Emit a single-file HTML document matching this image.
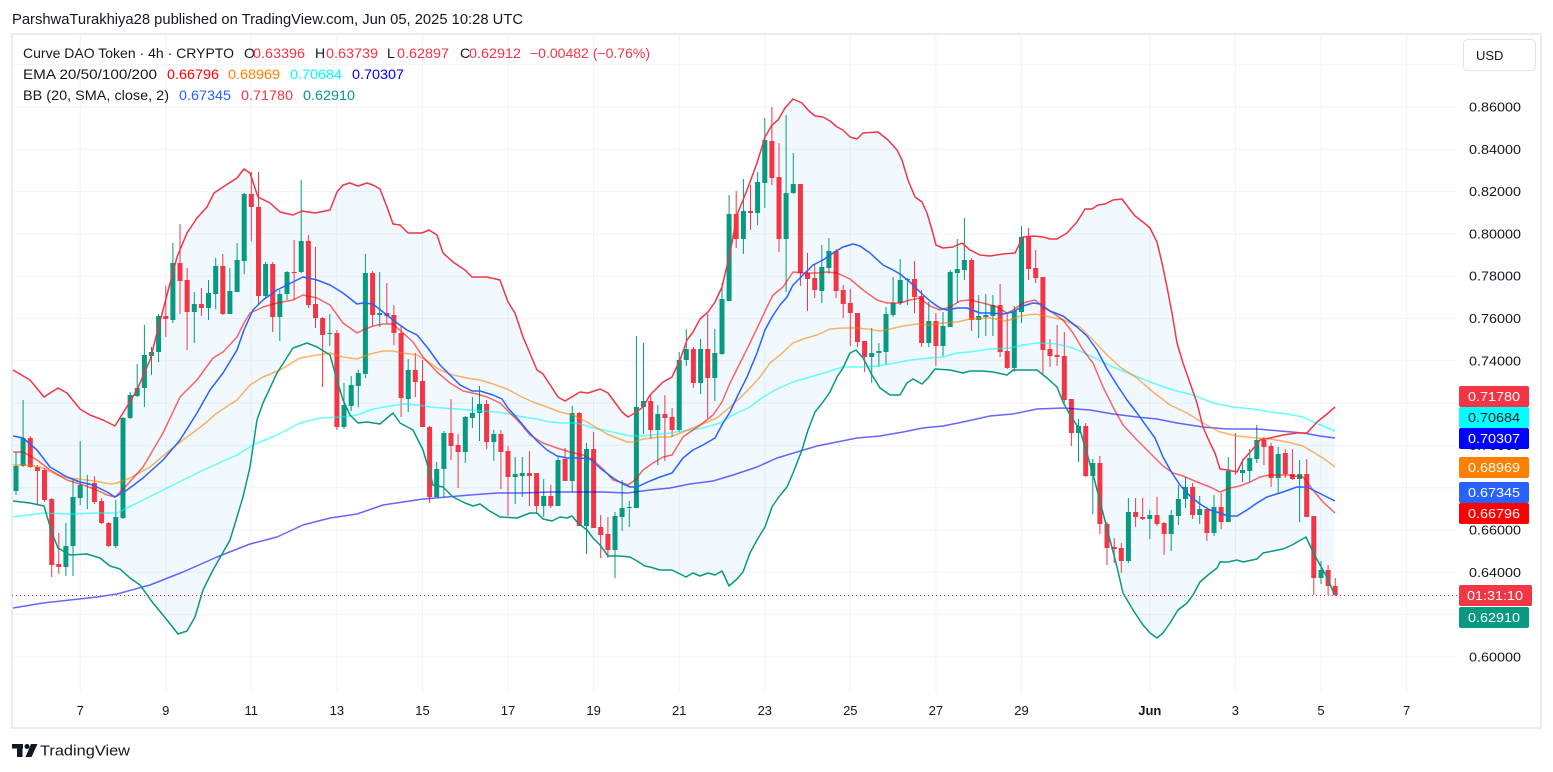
<!DOCTYPE html>
<html><head><meta charset="utf-8"><style>
html,body{margin:0;padding:0;background:#fff;}
svg{display:block;font-family:"Liberation Sans",sans-serif;}
</style></head><body>
<svg width="1553" height="772" viewBox="0 0 1553 772" xmlns="http://www.w3.org/2000/svg">
<rect width="1553" height="772" fill="#fff"/>
<text x="12" y="24" font-size="14.5" fill="#131722" textLength="511" lengthAdjust="spacingAndGlyphs">ParshwaTurakhiya28 published on TradingView.com, Jun 05, 2025 10:28 UTC</text>
<rect x="12" y="34" width="1529" height="694" fill="#fff" stroke="#ececec" stroke-width="2"/>
<!-- grid -->
<g stroke="#f0f3fa" stroke-width="1">
<path d="M12 64.7H1457M12 107H1457M12 149.3H1457M12 191.6H1457M12 233.9H1457M12 276.2H1457M12 318.5H1457M12 360.8H1457M12 403.1H1457M12 445.4H1457M12 487.7H1457M12 530H1457M12 572.3H1457M12 614.6H1457M12 656.9H1457"/>
<path d="M80.2 35V693M165.8 35V693M251.3 35V693M336.9 35V693M422.5 35V693M508 35V693M593.6 35V693M679.2 35V693M764.8 35V693M850.3 35V693M935.9 35V693M1021.5 35V693M1149.8 35V693M1235.4 35V693M1321 35V693M1406.6 35V693"/>
</g>
<!-- BB fill -->
<polygon fill="rgba(33,150,243,0.06)" points="13,370 30,380 44,397 58,388 67,393 80,409 90,415 103,420 115,426 123,413 137,390 150,360 163,310 177,257 187,233 197,218 207,207 214,193 223,187 237,178 244,169 250,173 258,197 270,203 280,212 293,215 302,211 315,213 330,210 337,192 343,185 350,183 358,186 367,183 373,185 380,189 387,207 393,224 400,225 408,233 422,233 429,230 437,235 443,253 453,262 465,270 472,277 487,277 500,280 508,302 515,313 523,337 537,370 543,374 558,397 565,401 580,392 588,393 600,389 608,393 622,412 628,417 635,413 643,407 650,395 663,382 672,377 680,360 687,340 693,332 700,319 708,312 715,302 722,287 730,253 737,215 747,190 757,163 765,137 772,125 778,120 785,108 793,99 802,103 808,110 815,116 823,117 830,121 837,127 843,130 850,137 857,139 863,133 878,132 888,140 897,150 902,160 908,180 915,197 922,202 927,213 932,230 936,245 943,248 953,247 962,243 970,250 980,255 990,256 1003,254 1015,253 1023,237 1033,236 1043,237 1050,239 1057,239 1067,233 1077,222 1085,209 1092,209 1098,205 1105,204 1113,200 1122,199 1128,207 1135,216 1143,222 1150,228 1157,242 1162,263 1167,287 1172,313 1177,343 1183,363 1190,383 1197,403 1203,427 1210,443 1215,453 1220,469 1228,470 1237,472 1243,460 1252,450 1260,440 1270,438 1283,435 1297,433 1307,433 1317,422 1327,414 1335,407 1334,594 1327,577 1320,565 1313,552 1306,537 1292,545 1283,549 1273,551 1263,553 1257,559 1243,562 1237,560 1228,562 1220,562 1217,568 1208,575 1200,582 1193,595 1187,603 1178,610 1170,623 1163,633 1157,638 1150,633 1143,625 1133,610 1123,593 1117,567 1110,540 1103,513 1095,482 1088,457 1080,430 1070,415 1063,402 1057,387 1047,378 1037,370 1023,370 1013,370 1007,375 993,372 983,371 970,371 963,373 950,370 935,369 928,378 922,384 913,379 907,383 900,395 890,395 880,388 872,375 863,358 856,350 850,353 843,368 837,377 830,392 823,402 815,412 808,430 802,450 793,473 787,487 778,498 772,507 765,527 757,540 750,553 743,572 737,579 729,586 722,571 715,575 708,573 700,576 693,573 686,577 678,573 672,570 660,570 650,567 645,566 637,561 630,557 620,556 608,556 600,545 593,538 587,530 578,523 572,516 567,518 560,517 552,521 543,519 537,513 530,513 517,518 500,517 488,510 480,504 473,506 465,503 453,497 443,487 433,485 428,467 423,450 418,440 413,430 400,423 393,413 380,424 367,422 358,423 350,415 343,400 337,380 330,355 317,347 307,343 293,348 277,373 263,403 257,420 250,467 243,497 230,540 213,570 203,590 195,617 187,631 178,634 167,620 153,603 140,585 130,578 120,569 110,566 100,558 87,554 70,555 58,548 52,533 44,506 30,503 13,501"/>
<!-- candles -->
<g fill="none" stroke-width="1">
<path stroke="#089981" d="M16 452V495M23.1 400V467M65.9 523V576M73 479V576M80.2 441V505M87.3 475V509M115.8 500V548M123 417V519M130.1 392V419M137.2 364V397M144.4 325V407M151.5 347V375M158.6 314V362M172.9 243V323M194.3 292V343M208.5 280V320M215.7 258V309M229.9 268V314M237.1 243V292M244.2 193V274M265.6 262V297M279.8 290V341M287 271V300M301.2 180V273M329.8 314V346M344 383V429M351.2 376V411M358.3 370V407M365.4 254V378M379.7 272V327M408.2 359V412M436.7 462V497M443.9 431V497M465.3 416V463M472.4 397V428M479.5 386V441M493.8 430V461M515.2 457V504M522.3 457V497M543.7 479V517M558 457V506M572.2 406V492M586.5 443V554M615 512V578M622.1 480V531M629.3 501V527M636.4 336V508M643.5 343V434M657.8 405V465M679.2 352V432M686.3 329V366M700.6 339V394M714.8 329V401M722 283V355M729.1 195V301M743.4 179V254M757.6 172V225M764.8 118V208M786.1 115V292M793.3 153V194M821.8 245V303M828.9 238V274M871.7 328V383M878.9 343V367M886 307V365M893.1 277V317M900.2 259V305M907.4 278V305M928.8 302V347M943 312V356M950.2 270V327M957.3 239V303M964.4 218V280M978.7 295V338M985.8 294V336M992.9 295V336M1014.3 306V372M1021.5 226V323M1078.5 419V462M1092.8 459V514M1128.4 498V563M1149.8 510V539M1171.2 510V551M1178.4 485V525M1185.5 477V508M1199.7 496V524M1214 495V536M1228.3 457V522M1242.5 459V482M1249.7 449V482M1256.8 425V463M1278.2 447V494M1299.6 460V522M1321 561V584"/>
<path stroke="#F23645" d="M30.3 436V468M37.4 465V504M44.5 468V502M51.7 498V577M58.8 533V574M94.4 476V504M101.6 498V524M108.7 522V547M165.8 286V337M180 224V314M187.1 268V350M201.4 288V316M222.8 254V315M251.3 172V241M258.5 172V304M272.7 262V332M294.1 240V300M308.4 235V308M315.5 247V328M322.6 317V387M336.9 330V430M372.6 271V326M386.8 283V324M393.9 305V345M401.1 325V417M415.3 353V397M422.5 360V427M429.6 426V503M451 399V460M458.1 434V488M486.6 400V449M500.9 430V489M508 446V516M529.4 451V506M536.6 473V514M550.8 485V508M565.1 448V481M579.3 412V526M593.6 432V528M600.7 515V558M607.9 517V558M650.7 395V439M664.9 395V461M672.1 408V437M693.4 347V388M707.7 314V418M736.2 191V248M750.5 185V230M771.9 107V185M779 143V252M800.4 184V286M807.5 253V311M814.7 264V298M836.1 249V298M843.2 285V318M850.3 289V346M857.5 313V347M864.6 341V372M914.5 261V313M921.6 290V347M935.9 313V366M971.6 258V331M1000.1 284V357M1007.2 313V369M1028.6 228V280M1035.7 250V283M1042.9 277V375M1050 339V367M1057.1 325V366M1064.3 332V403M1071.4 399V446M1085.7 423V477M1099.9 456V534M1107 522V565M1114.2 538V563M1121.3 543V573M1135.6 498V527M1142.7 498V520M1157 497V526M1164.1 522V555M1192.6 483V519M1206.9 508V541M1221.1 493V529M1235.4 433V475M1263.9 437V465M1271.1 443V487M1285.3 449V478M1292.4 449V480M1306.7 459V517M1313.8 516V595M1328.1 565V595M1335.2 578V596"/>
</g>
<path fill="#089981" d="M13.5 466h5V491h-5zM20.6 438h5V466h-5zM63.4 546h5V567h-5zM70.5 497h5V546h-5zM77.7 485h5V498h-5zM84.8 483h5V484h-5zM113.3 517h5V546h-5zM120.5 418h5V518h-5zM127.6 395h5V418h-5zM134.7 388h5V396h-5zM141.9 355h5V388h-5zM149 352h5V356h-5zM156.1 316h5V352h-5zM170.4 263h5V320h-5zM191.8 304h5V312h-5zM206 293h5V308h-5zM213.2 266h5V294h-5zM227.4 291h5V314h-5zM234.6 260h5V292h-5zM241.7 194h5V261h-5zM263.1 264h5V296h-5zM277.3 294h5V317h-5zM284.5 272h5V294h-5zM298.7 241h5V272h-5zM327.3 333h5V334h-5zM341.5 405h5V427h-5zM348.7 385h5V406h-5zM355.8 373h5V386h-5zM362.9 273h5V374h-5zM377.2 313h5V315h-5zM405.7 370h5V399h-5zM434.2 469h5V497h-5zM441.4 433h5V469h-5zM462.8 417h5V452h-5zM469.9 413h5V418h-5zM477 404h5V413h-5zM491.3 434h5V442h-5zM512.7 474h5V477h-5zM519.8 473h5V476h-5zM541.2 496h5V506h-5zM555.5 460h5V506h-5zM569.7 413h5V481h-5zM584 449h5V526h-5zM612.5 516h5V550h-5zM619.6 508h5V517h-5zM626.8 507h5V508h-5zM633.9 407h5V508h-5zM641 401h5V407h-5zM655.3 414h5V430h-5zM676.7 360h5V430h-5zM683.8 349h5V360h-5zM698.1 349h5V383h-5zM712.3 353h5V378h-5zM719.5 299h5V354h-5zM726.6 214h5V301h-5zM740.9 211h5V239h-5zM755.1 182h5V213h-5zM762.3 140h5V183h-5zM783.6 193h5V239h-5zM790.8 184h5V193h-5zM819.3 267h5V291h-5zM826.4 251h5V268h-5zM869.2 353h5V357h-5zM876.4 351h5V353h-5zM883.5 314h5V352h-5zM890.6 303h5V315h-5zM897.7 280h5V303h-5zM904.9 279h5V280h-5zM926.3 321h5V343h-5zM940.5 326h5V346h-5zM947.7 272h5V327h-5zM954.8 269h5V273h-5zM961.9 260h5V270h-5zM976.2 316h5V320h-5zM983.3 315h5V317h-5zM990.4 305h5V316h-5zM1011.8 311h5V368h-5zM1019 237h5V312h-5zM1076 426h5V433h-5zM1090.3 463h5V476h-5zM1125.9 512h5V561h-5zM1147.3 515h5V519h-5zM1168.7 515h5V534h-5zM1175.9 499h5V516h-5zM1183 487h5V499h-5zM1197.2 509h5V515h-5zM1211.5 507h5V533h-5zM1225.8 471h5V522h-5zM1240 470h5V473h-5zM1247.2 458h5V471h-5zM1254.3 440h5V459h-5zM1275.7 454h5V478h-5zM1297.1 474h5V479h-5zM1318.5 570h5V578h-5z"/>
<path fill="#F23645" d="M27.8 438h5V467h-5zM34.9 467h5V471h-5zM42 470h5V500h-5zM49.2 499h5V565h-5zM56.3 564h5V567h-5zM91.9 483h5V502h-5zM99.1 501h5V523h-5zM106.2 523h5V546h-5zM163.3 316h5V319h-5zM177.5 263h5V281h-5zM184.6 280h5V312h-5zM198.9 304h5V308h-5zM220.3 266h5V314h-5zM248.8 194h5V207h-5zM256 207h5V296h-5zM270.2 264h5V317h-5zM291.6 272h5V273h-5zM305.9 241h5V305h-5zM313 304h5V318h-5zM320.1 318h5V335h-5zM334.4 333h5V427h-5zM370.1 273h5V315h-5zM384.3 313h5V316h-5zM391.4 315h5V333h-5zM398.6 333h5V398h-5zM412.8 370h5V382h-5zM420 381h5V427h-5zM427.1 427h5V497h-5zM448.5 433h5V446h-5zM455.6 445h5V452h-5zM484.1 404h5V442h-5zM498.4 434h5V452h-5zM505.5 451h5V477h-5zM526.9 473h5V476h-5zM534.1 473h5V506h-5zM548.3 496h5V506h-5zM562.6 459h5V481h-5zM576.8 413h5V526h-5zM591.1 449h5V528h-5zM598.2 527h5V535h-5zM605.4 534h5V550h-5zM648.2 401h5V430h-5zM662.4 414h5V418h-5zM669.6 417h5V430h-5zM690.9 349h5V383h-5zM705.2 349h5V378h-5zM733.7 214h5V239h-5zM748 211h5V213h-5zM769.4 141h5V178h-5zM776.5 177h5V239h-5zM797.9 184h5V273h-5zM805 273h5V279h-5zM812.2 278h5V290h-5zM833.6 251h5V291h-5zM840.7 290h5V304h-5zM847.8 303h5V313h-5zM855 313h5V342h-5zM862.1 341h5V357h-5zM912 279h5V297h-5zM919.1 296h5V343h-5zM933.4 321h5V346h-5zM969.1 260h5V320h-5zM997.6 305h5V352h-5zM1004.7 351h5V368h-5zM1026.1 237h5V269h-5zM1033.2 268h5V278h-5zM1040.4 277h5V350h-5zM1047.5 349h5V356h-5zM1054.6 355h5V357h-5zM1061.8 356h5V400h-5zM1068.9 399h5V433h-5zM1083.2 426h5V476h-5zM1097.4 463h5V524h-5zM1104.5 524h5V548h-5zM1111.7 547h5V549h-5zM1118.8 548h5V561h-5zM1133.1 512h5V517h-5zM1140.2 517h5V519h-5zM1154.5 515h5V524h-5zM1161.6 523h5V534h-5zM1190.1 487h5V515h-5zM1204.4 509h5V533h-5zM1218.6 507h5V522h-5zM1232.9 471h5V472h-5zM1261.4 440h5V447h-5zM1268.6 446h5V478h-5zM1282.8 453h5V474h-5zM1289.9 474h5V479h-5zM1304.2 474h5V517h-5zM1311.3 516h5V578h-5zM1325.6 570h5V586h-5zM1332.7 586h5V595h-5z"/>
<!-- indicator lines -->
<g fill="none" stroke-width="1.5" stroke-linejoin="round">
<polyline stroke="#0000FF" stroke-opacity="0.6" points="13,608 43,603 70,600 97,597 117,594 150,585 183,572 217,557 250,544 277,537 303,525 330,518 357,514 383,505 403,502 423,499 447,497 470,495 497,493 523,493 550,492 577,492 603,492 627,493 650,490 670,488 690,484 713,481 733,475 757,467 777,458 797,452 817,446 837,442 857,438 880,436 903,432 923,428 943,426 963,422 990,416 1013,414 1037,409 1063,408 1090,410 1113,414 1137,417 1157,419 1177,423 1203,427 1227,429 1257,429 1280,431 1303,433 1320,436 1335,438"/>
<polyline stroke="#00FFFF" stroke-opacity="0.6" points="13,517 43,513 70,514 97,513 117,513 137,503 157,493 183,480 210,467 237,455 253,445 277,435 300,423 320,418 343,417 357,415 373,409 390,406 403,404 417,405 430,407 443,408 457,409 470,410 483,411 497,412 510,414 523,417 537,419 550,422 563,423 577,423 590,427 603,430 617,433 630,436 643,436 660,434 670,433 683,431 703,428 720,423 733,415 750,407 763,397 777,389 793,382 810,377 827,372 843,367 860,367 877,366 890,364 910,360 930,358 943,357 957,353 970,352 990,349 1010,348 1023,345 1037,343 1057,344 1073,348 1093,357 1113,367 1133,375 1153,383 1173,390 1193,395 1213,403 1233,407 1253,409 1270,412 1287,414 1303,417 1313,422 1323,426 1335,431"/>
<polyline stroke="#FF8000" stroke-opacity="0.6" points="13,465 30,465 43,468 57,475 70,478 87,480 100,482 110,484 117,483 130,478 150,467 170,450 187,437 203,425 217,413 237,400 250,385 263,377 280,370 300,358 317,355 330,353 343,357 357,359 370,354 383,351 393,351 403,353 417,355 427,361 440,370 453,375 467,378 480,380 493,384 507,389 520,396 533,402 547,407 560,412 573,415 587,422 597,428 607,434 617,438 627,442 633,442 643,439 660,437 670,437 683,432 700,425 717,418 730,407 740,398 750,388 760,377 770,363 780,355 793,343 803,339 817,335 830,329 843,328 857,328 867,329 880,331 890,329 903,326 917,324 930,325 943,323 957,322 970,319 990,318 1007,321 1020,316 1035,314 1050,317 1063,320 1080,327 1093,340 1107,355 1120,367 1137,378 1153,392 1170,405 1187,413 1203,423 1220,432 1237,436 1257,438 1270,439 1287,442 1303,446 1313,452 1323,458 1335,467"/>
<polyline stroke="#FF0000" stroke-opacity="0.6" points="13,452 23,452 37,460 50,470 67,480 83,485 97,490 107,495 115,497 127,485 143,467 163,433 180,397 197,380 213,358 223,352 237,337 244,323 250,313 263,307 277,303 293,300 303,295 317,298 330,305 343,323 357,333 363,330 373,326 383,324 393,324 403,333 413,342 423,357 437,372 450,383 463,391 477,394 487,397 500,403 510,413 520,423 530,435 543,443 557,448 570,452 583,455 593,460 603,469 613,480 623,483 628,485 635,480 643,470 653,463 663,457 672,455 683,437 693,430 703,423 713,415 722,402 730,383 740,363 750,343 760,322 767,307 773,295 783,287 793,272 803,273 817,273 827,272 837,273 850,279 863,290 877,300 887,303 900,303 910,300 920,298 930,306 940,310 950,307 960,301 970,300 983,303 997,307 1007,313 1013,310 1023,303 1035,300 1043,307 1053,313 1063,320 1073,333 1083,350 1093,363 1103,387 1113,407 1123,425 1137,440 1150,453 1163,466 1173,473 1183,476 1197,482 1210,487 1220,492 1230,488 1240,486 1250,482 1260,477 1270,475 1287,475 1303,477 1313,490 1323,502 1335,513"/>
<polyline stroke="#2962FF" points="13,436 23,438 37,450 50,467 67,477 80,482 93,485 107,492 115,497 127,490 143,478 163,460 180,440 197,413 210,390 223,373 237,350 244,330 253,310 263,300 277,290 293,282 303,277 317,280 330,285 343,293 357,304 363,303 373,304 383,312 397,323 407,330 417,335 427,347 440,365 450,375 460,385 472,391 480,391 493,395 502,399 508,408 517,418 527,430 537,441 547,450 557,456 567,458 580,458 590,459 600,468 613,478 623,484 630,487 637,487 650,481 660,477 672,473 683,458 693,450 703,445 715,438 723,423 730,412 737,397 747,377 757,353 765,330 772,317 780,305 787,297 793,285 803,275 813,265 823,260 833,253 843,247 853,244 860,246 870,253 883,265 893,270 900,274 910,282 920,292 930,301 940,308 947,310 957,308 967,308 980,313 990,313 1003,314 1013,312 1023,306 1033,303 1040,304 1050,311 1063,316 1077,327 1087,336 1097,350 1107,369 1117,385 1127,400 1137,413 1147,427 1155,438 1163,457 1172,473 1180,485 1190,496 1200,504 1210,510 1220,513 1228,516 1237,516 1247,510 1257,503 1267,497 1283,492 1297,487 1307,487 1317,492 1327,497 1335,501"/>
<polyline stroke="#F23645" points="13,370 30,380 44,397 58,388 67,393 80,409 90,415 103,420 115,426 123,413 137,390 150,360 163,310 177,257 187,233 197,218 207,207 214,193 223,187 237,178 244,169 250,173 258,197 270,203 280,212 293,215 302,211 315,213 330,210 337,192 343,185 350,183 358,186 367,183 373,185 380,189 387,207 393,224 400,225 408,233 422,233 429,230 437,235 443,253 453,262 465,270 472,277 487,277 500,280 508,302 515,313 523,337 537,370 543,374 558,397 565,401 580,392 588,393 600,389 608,393 622,412 628,417 635,413 643,407 650,395 663,382 672,377 680,360 687,340 693,332 700,319 708,312 715,302 722,287 730,253 737,215 747,190 757,163 765,137 772,125 778,120 785,108 793,99 802,103 808,110 815,116 823,117 830,121 837,127 843,130 850,137 857,139 863,133 878,132 888,140 897,150 902,160 908,180 915,197 922,202 927,213 932,230 936,245 943,248 953,247 962,243 970,250 980,255 990,256 1003,254 1015,253 1023,237 1033,236 1043,237 1050,239 1057,239 1067,233 1077,222 1085,209 1092,209 1098,205 1105,204 1113,200 1122,199 1128,207 1135,216 1143,222 1150,228 1157,242 1162,263 1167,287 1172,313 1177,343 1183,363 1190,383 1197,403 1203,427 1210,443 1215,453 1220,469 1228,470 1237,472 1243,460 1252,450 1260,440 1270,438 1283,435 1297,433 1307,433 1317,422 1327,414 1335,407"/>
<polyline stroke="#089981" points="13,501 30,503 44,506 52,533 58,548 70,555 87,554 100,558 110,566 120,569 130,578 140,585 153,603 167,620 178,634 187,631 195,617 203,590 213,570 230,540 243,497 250,467 257,420 263,403 277,373 293,348 307,343 317,347 330,355 337,380 343,400 350,415 358,423 367,422 380,424 393,413 400,423 413,430 418,440 423,450 428,467 433,485 443,487 453,497 465,503 473,506 480,504 488,510 500,517 517,518 530,513 537,513 543,519 552,521 560,517 567,518 572,516 578,523 587,530 593,538 600,545 608,556 620,556 630,557 637,561 645,566 650,567 660,570 672,570 678,573 686,577 693,573 700,576 708,573 715,575 722,571 729,586 737,579 743,572 750,553 757,540 765,527 772,507 778,498 787,487 793,473 802,450 808,430 815,412 823,402 830,392 837,377 843,368 850,353 856,350 863,358 872,375 880,388 890,395 900,395 907,383 913,379 922,384 928,378 935,369 950,370 963,373 970,371 983,371 993,372 1007,375 1013,370 1023,370 1037,370 1047,378 1057,387 1063,402 1070,415 1080,430 1088,457 1095,482 1103,513 1110,540 1117,567 1123,593 1133,610 1143,625 1150,633 1157,638 1163,633 1170,623 1178,610 1187,603 1193,595 1200,582 1208,575 1217,568 1220,562 1228,562 1237,560 1243,562 1257,559 1263,553 1273,551 1283,549 1292,545 1306,537 1313,552 1320,565 1327,577 1334,594"/>
</g>
<!-- current price dotted line -->
<line x1="12" y1="595.5" x2="1457" y2="595.5" stroke="#F23645" stroke-width="1" stroke-dasharray="1,3"/>
<!-- legend -->
<g font-size="14" fill="#131722">
<text x="23" y="58" textLength="211" lengthAdjust="spacingAndGlyphs">Curve DAO Token · 4h · CRYPTO</text>
<text x="244" y="58">O</text><text x="253" y="58" fill="#F23645" textLength="52" lengthAdjust="spacingAndGlyphs">0.63396</text>
<text x="315" y="58">H</text><text x="326" y="58" fill="#F23645" textLength="52" lengthAdjust="spacingAndGlyphs">0.63739</text>
<text x="387" y="58">L</text><text x="397" y="58" fill="#F23645" textLength="52" lengthAdjust="spacingAndGlyphs">0.62897</text>
<text x="460" y="58">C</text><text x="469" y="58" fill="#F23645" textLength="52" lengthAdjust="spacingAndGlyphs">0.62912</text>
<text x="530" y="58" fill="#F23645" textLength="120" lengthAdjust="spacingAndGlyphs">−0.00482 (−0.76%)</text>
<text x="23" y="79" textLength="134" lengthAdjust="spacingAndGlyphs">EMA 20/50/100/200</text>
<text x="167" y="79" fill="#FF0000" textLength="52" lengthAdjust="spacingAndGlyphs">0.66796</text>
<text x="228" y="79" fill="#FF8000" textLength="52" lengthAdjust="spacingAndGlyphs">0.68969</text>
<text x="290" y="79" fill="#00FFFF" textLength="52" lengthAdjust="spacingAndGlyphs">0.70684</text>
<text x="352" y="79" fill="#0000FF" textLength="52" lengthAdjust="spacingAndGlyphs">0.70307</text>
<text x="23" y="100" textLength="146" lengthAdjust="spacingAndGlyphs">BB (20, SMA, close, 2)</text>
<text x="179" y="100" fill="#2962FF" textLength="52" lengthAdjust="spacingAndGlyphs">0.67345</text>
<text x="241" y="100" fill="#F23645" textLength="52" lengthAdjust="spacingAndGlyphs">0.71780</text>
<text x="303" y="100" fill="#089981" textLength="52" lengthAdjust="spacingAndGlyphs">0.62910</text>
</g>
<!-- price axis -->
<g font-size="13" fill="#131722">
<text x="1469" y="111.5" textLength="52" lengthAdjust="spacingAndGlyphs">0.86000</text>
<text x="1469" y="153.8" textLength="52" lengthAdjust="spacingAndGlyphs">0.84000</text>
<text x="1469" y="196.1" textLength="52" lengthAdjust="spacingAndGlyphs">0.82000</text>
<text x="1469" y="238.4" textLength="52" lengthAdjust="spacingAndGlyphs">0.80000</text>
<text x="1469" y="280.7" textLength="52" lengthAdjust="spacingAndGlyphs">0.78000</text>
<text x="1469" y="323" textLength="52" lengthAdjust="spacingAndGlyphs">0.76000</text>
<text x="1469" y="365.3" textLength="52" lengthAdjust="spacingAndGlyphs">0.74000</text>
<text x="1469" y="407.6" textLength="52" lengthAdjust="spacingAndGlyphs">0.72000</text>
<text x="1469" y="449.9" textLength="52" lengthAdjust="spacingAndGlyphs">0.70000</text>
<text x="1469" y="492.2" textLength="52" lengthAdjust="spacingAndGlyphs">0.68000</text>
<text x="1469" y="534.5" textLength="52" lengthAdjust="spacingAndGlyphs">0.66000</text>
<text x="1469" y="576.8" textLength="52" lengthAdjust="spacingAndGlyphs">0.64000</text>
<text x="1469" y="619.1" textLength="52" lengthAdjust="spacingAndGlyphs">0.62000</text>
<text x="1469" y="661.4" textLength="52" lengthAdjust="spacingAndGlyphs">0.60000</text>
</g>
<rect x="1463.5" y="39.5" width="72" height="31" rx="4" fill="#fff" stroke="#e0e3eb"/>
<text x="1476" y="60" font-size="13" fill="#131722">USD</text>
<!-- tags -->
<g font-size="13" text-anchor="middle">
<rect x="1459" y="386" width="70" height="21" rx="2" fill="#F23645"/><text x="1494" y="401" fill="#fff" textLength="52" lengthAdjust="spacingAndGlyphs">0.71780</text>
<rect x="1459" y="407" width="70" height="21" rx="2" fill="#00FFFF"/><text x="1494" y="422" fill="#131722" textLength="52" lengthAdjust="spacingAndGlyphs">0.70684</text>
<rect x="1459" y="428" width="70" height="21" rx="2" fill="#0000FF"/><text x="1494" y="443" fill="#fff" textLength="52" lengthAdjust="spacingAndGlyphs">0.70307</text>
<rect x="1459" y="457" width="70" height="21" rx="2" fill="#FF8000"/><text x="1494" y="472" fill="#fff" textLength="52" lengthAdjust="spacingAndGlyphs">0.68969</text>
<rect x="1459" y="482" width="70" height="21" rx="2" fill="#2962FF"/><text x="1494" y="497" fill="#fff" textLength="52" lengthAdjust="spacingAndGlyphs">0.67345</text>
<rect x="1459" y="503" width="70" height="21" rx="2" fill="#FF0000"/><text x="1494" y="518" fill="#fff" textLength="52" lengthAdjust="spacingAndGlyphs">0.66796</text>
<rect x="1459" y="585" width="73" height="21" rx="2" fill="#F23645"/><text x="1495" y="600" fill="#fff" textLength="56" lengthAdjust="spacingAndGlyphs">01:31:10</text>
<rect x="1459" y="607" width="70" height="21" rx="2" fill="#089981"/><text x="1494" y="622" fill="#fff" textLength="52" lengthAdjust="spacingAndGlyphs">0.62910</text>
</g>
<!-- time axis -->
<g font-size="13" fill="#131722" text-anchor="middle">
<text x="80.2" y="715">7</text>
<text x="165.8" y="715">9</text>
<text x="251.3" y="715">11</text>
<text x="336.9" y="715">13</text>
<text x="422.5" y="715">15</text>
<text x="508" y="715">17</text>
<text x="593.6" y="715">19</text>
<text x="679.2" y="715">21</text>
<text x="764.8" y="715">23</text>
<text x="850.3" y="715">25</text>
<text x="935.9" y="715">27</text>
<text x="1021.5" y="715">29</text>
<text x="1149.8" y="715" font-weight="bold">Jun</text>
<text x="1235.4" y="715">3</text>
<text x="1321" y="715">5</text>
<text x="1406.6" y="715">7</text>
</g>
<!-- TradingView logo -->
<g fill="#131722">
<rect x="12" y="744" width="11" height="4.5"/>
<rect x="17" y="744" width="5.5" height="13"/>
<circle cx="27" cy="746.5" r="2.5"/>
<polygon points="31,744 37.5,744 31.5,757 25.5,757"/>
</g>
<text x="40" y="755.5" font-size="15" fill="#131722" textLength="90" lengthAdjust="spacingAndGlyphs">TradingView</text>
</svg>
</body></html>
